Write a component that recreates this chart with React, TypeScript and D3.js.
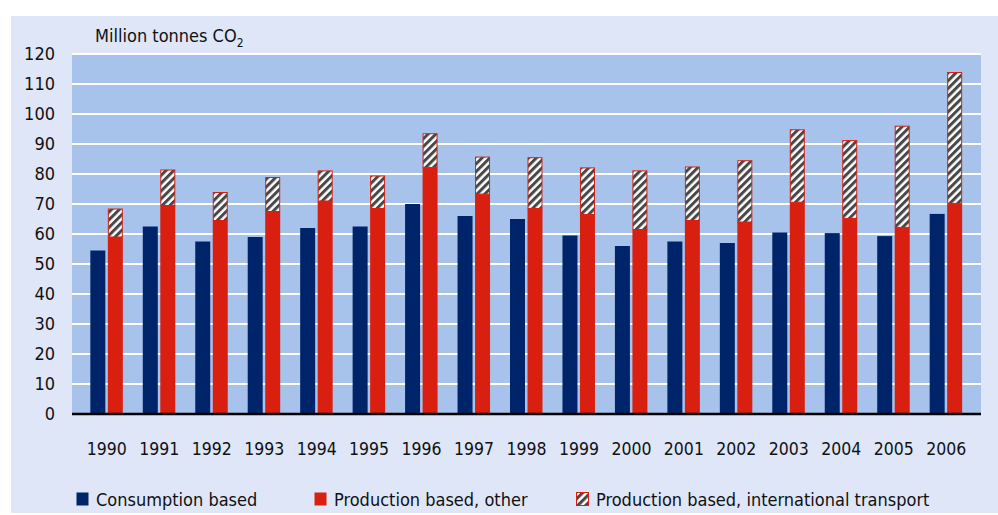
import React from "react";
import * as d3 from "d3";

const years = ["1990","1991","1992","1993","1994","1995","1996","1997","1998","1999","2000","2001","2002","2003","2004","2005","2006"];
const consumption = [54.5, 62.5, 57.5, 59, 62, 62.5, 70, 66, 65, 59.5, 56, 57.5, 57, 60.5, 60.3, 59.3, 66.7];
const productionOther = [59, 69.5, 64.5, 67.5, 71, 68.5, 82.2, 73.3, 68.5, 66.5, 61.5, 64.5, 64, 70.6, 65.2, 62.2, 70.2];
const productionTotal = [68.5, 81.5, 74, 79, 81.2, 79.5, 93.6, 85.8, 85.6, 82.2, 81.2, 82.5, 84.6, 94.9, 91.3, 96.1, 114];
const yTicks = [0, 10, 20, 30, 40, 50, 60, 70, 80, 90, 100, 110, 120];
const legendLabels = ["Consumption based", "Production based, other", "Production based, international transport"];

const W = 998, H = 515;
const NAVY = "#002469";
const RED = "#d92010";
const PLOT_BG = "#a7c3ec";
const OUTER_BG = "#dee6f8";
const FONT = "'Liberation Sans Narrow', 'DejaVu Sans Condensed', 'Open Sans', sans-serif";

export default function App() {
  const x = d3.scaleBand<string>().domain(years).range([72, 981]).paddingInner(0).paddingOuter(0.164);
  const y = d3.scaleLinear().domain([0, 120]).range([414, 54]);
  const barW = 15;
  return (
    <svg width={W} height={H} style={{ display: "block", position: "absolute", left: 0, top: 0 }}>
      <defs>
        <pattern id="hatch" patternUnits="userSpaceOnUse" width="5.5" height="5.5" patternTransform="rotate(45)">
          <rect width="5.5" height="5.5" fill="#ffffff" />
          <rect width="3" height="5.5" fill="#484848" />
        </pattern>
      </defs>
      <rect x={0} y={0} width={W} height={H} fill="#ffffff" />
      <rect x={11} y={16} width={W - 11} height={497} fill={OUTER_BG} />
      <rect x={72} y={54} width={909} height={360} fill={PLOT_BG} />
      {yTicks.map((t) => (
        <g key={t}>
          {t > 0 && <line x1={72} x2={981} y1={y(t)} y2={y(t)} stroke="#ffffff" strokeWidth={2.2} />}
          <text x={55} y={y(t)} dy="0.36em" textAnchor="end" fontFamily={FONT} fontSize={18} fill="#111">{t}</text>
        </g>
      ))}
      <text x={95} y={42} fontFamily={FONT} fontSize={18} fill="#111">
        Million tonnes CO<tspan fontSize={12} dy={5}>2</tspan>
      </text>
      {years.map((yr, i) => {
        const c = (x(yr) as number) + x.bandwidth() / 2;
        return (
          <g key={yr}>
            <rect x={c - 16.5} y={y(consumption[i])} width={barW} height={y(0) - y(consumption[i])} fill={NAVY} />
            <rect x={c + 1} y={y(productionOther[i])} width={barW} height={y(0) - y(productionOther[i])} fill={RED} />
            <rect x={c + 1.5} y={y(productionTotal[i]) + 0.5} width={barW - 1} height={y(productionOther[i]) - y(productionTotal[i]) - 0.5} fill="url(#hatch)" stroke={RED} strokeWidth={1} />
            <text x={c} y={455} textAnchor="middle" fontFamily={FONT} fontSize={17.5} fill="#111">{yr}</text>
          </g>
        );
      })}
      <line x1={72} x2={981} y1={414} y2={414} stroke="#000" strokeWidth={2.5} />
      {[
        { x: 76, fill: NAVY, label: legendLabels[0] },
        { x: 314, fill: RED, label: legendLabels[1] },
        { x: 576, fill: "url(#hatch)", label: legendLabels[2], stroke: RED },
      ].map((l) => (
        <g key={l.label}>
          <rect x={l.x + 0.5} y={492.5} width={12} height={13} fill={l.fill} stroke={l.stroke || "none"} strokeWidth={1} />
          <text x={l.x + 20} y={506} fontFamily={FONT} fontSize={18} fill="#111">{l.label}</text>
        </g>
      ))}
    </svg>
  );
}
